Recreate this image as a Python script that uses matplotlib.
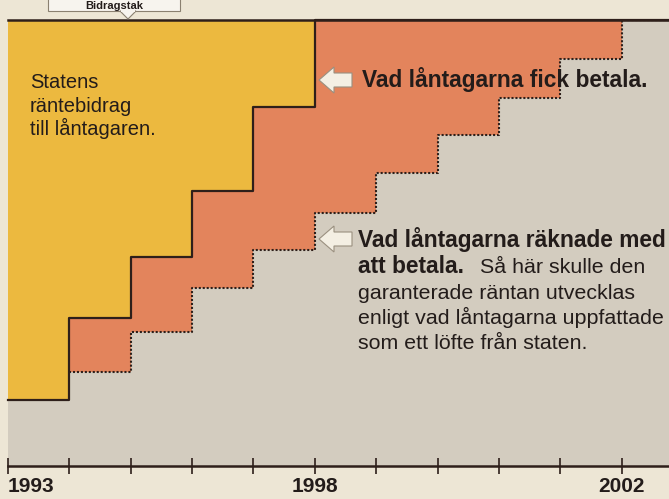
import matplotlib
matplotlib.use("Agg")
import matplotlib.pyplot as plt
from matplotlib.patches import Polygon, Rectangle
import numpy as np

# ---------------- data ----------------
step_edges = [0, 1, 2, 3, 4, 5, 6, 7, 8, 9, 10, 10.77]
# what borrowers actually paid (share of the interest), per step
paid = [14.8, 33.2, 46.9, 61.7, 80.5, 100, 100, 100, 100, 100, 100, 100]
# what borrowers expected to pay, per step
expected = [14.8, 21.1, 30.0, 39.9, 48.4, 56.7, 65.7, 74.2, 82.5, 91.3, 100, 100]
tick_pos = [0, 1, 2, 3, 4, 5, 6, 7, 8, 9, 10]
tick_labels = ["1993", "", "", "", "", "1998", "", "", "", "", "2002"]

# ---------------- style ----------------
W, H = 669, 499
C_BG = "#ede6d5"
C_GRAY = "#d3ccbf"
C_YEL = "#ecb93f"
C_ORG = "#e3845c"
C_DARK = "#2e1f1a"
C_TXT = "#231c1a"
FONT = "Liberation Sans"

plt.rcParams["font.family"] = [FONT, "DejaVu Sans"]

fig = plt.figure(figsize=(W / 100, H / 100), dpi=100, facecolor=C_BG)

def fx(px):
    return px / W

def fy(py):
    return 1 - py / H

ax_left, ax_right, ax_top, ax_bot = 8, 669, 20, 466
ax = fig.add_axes([fx(ax_left), fy(ax_bot), fx(ax_right) - fx(ax_left), fy(ax_top) - fy(ax_bot)])
ax.set_facecolor(C_GRAY)
ax.set_xlim(step_edges[0], step_edges[-1])
ax.set_ylim(0, 100)

x = np.array(step_edges)
paid_a = np.array(paid)
exp_a = np.array(expected)

ax.fill_between(x, paid_a, 100, step="post", color=C_YEL, lw=0)
ax.fill_between(x, exp_a, paid_a, step="post", color=C_ORG, lw=0)

ax.step(x, paid_a, where="post", color=C_DARK, lw=1.6, clip_on=False, zorder=3)
ax.step(x[1:], exp_a[1:], where="post", color=C_DARK, lw=1.5,
        linestyle=(0, (1.0, 0.9)), zorder=3)

for s in ["left", "right"]:
    ax.spines[s].set_visible(False)
ax.spines["top"].set_color(C_DARK)
ax.spines["top"].set_linewidth(1.8)
ax.spines["bottom"].set_color(C_DARK)
ax.spines["bottom"].set_linewidth(1.8)
ax.spines["top"].set_zorder(5)

ax.set_yticks([])
ax.set_xticks(tick_pos)
ax.set_xticklabels(tick_labels, fontsize=15, fontweight="bold", color=C_TXT)
ax.tick_params(axis="x", direction="inout", length=11, width=1.2, color=C_DARK, pad=2.5)
lbls = ax.get_xticklabels()
lbls[0].set_horizontalalignment("left")

# ---------------- annotations ----------------
def ftext(px, py, s, **kw):
    kw.setdefault("color", C_TXT)
    kw.setdefault("va", "baseline")
    kw.setdefault("ha", "left")
    return fig.text(fx(px), fy(py), s, **kw)

for yb, s in zip([88, 112, 135], ["Statens", "räntebidrag", "till låntagaren."]):
    ftext(30, yb, s, fontsize=14.5)

ftext(362, 87, "Vad låntagarna fick betala.", fontsize=16.4, fontweight="bold")

ftext(358, 247, "Vad låntagarna räknade med", fontsize=16.4, fontweight="bold")
ftext(358, 273, "att betala.", fontsize=16.4, fontweight="bold")
ftext(480, 273, "Så här skulle den", fontsize=15.4)
ftext(358, 299, "garanterade räntan utvecklas", fontsize=15.4)
ftext(358, 324, "enligt vad låntagarna uppfattade", fontsize=15.4)
ftext(358, 349, "som ett löfte från staten.", fontsize=15.4)

def arrow(tipx, cy):
    pts = [(tipx, cy), (tipx + 15, cy - 13), (tipx + 15, cy - 7), (tipx + 33, cy - 7),
           (tipx + 33, cy + 7), (tipx + 15, cy + 7), (tipx + 15, cy + 13)]
    poly = Polygon([(fx(a), fy(b)) for a, b in pts], closed=True, transform=fig.transFigure,
                   facecolor="#f4efe3", edgecolor="#9a9080", lw=0.8, zorder=10)
    fig.add_artist(poly)

arrow(319, 80)
arrow(319, 239)

# small callout box at top (cropped in the original)
box = Rectangle((fx(48), fy(11)), fx(180) - fx(48), fy(-10) - fy(11), transform=fig.transFigure,
                facecolor="#f7f4ee", edgecolor="#8a8070", lw=0.8, zorder=10)
fig.add_artist(box)
ptr = Polygon([(fx(120), fy(11)), (fx(136), fy(11)), (fx(128), fy(19))], closed=True,
              transform=fig.transFigure, facecolor="#f7f4ee", edgecolor="#8a8070", lw=0.8, zorder=11)
fig.add_artist(ptr)
fig.add_artist(Rectangle((fx(121), fy(11.5)), fx(14), fy(0) - fy(2), transform=fig.transFigure,
                         facecolor="#f7f4ee", edgecolor="none", zorder=12))
fig.text(fx(114), fy(9), "Bidragstak", fontsize=8, fontweight="bold", color=C_TXT,
         ha="center", va="baseline", zorder=13)

fig.savefig("out.png", dpi=100, facecolor=C_BG)
